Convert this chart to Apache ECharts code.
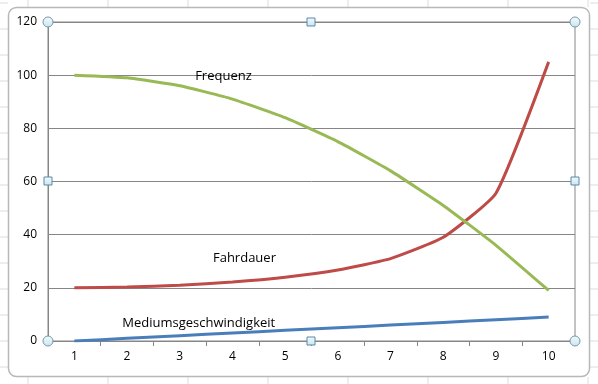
<!DOCTYPE html>
<html>
<head>
<meta charset="utf-8">
<script src="https://cdn.jsdelivr.net/npm/echarts@6/dist/echarts.min.js"></script>
<style>
html,body{margin:0;padding:0;background:#fff;}
#c{width:598px;height:384px;}
</style>
</head>
<body>
<div id="c"></div>
<script>
const categories = ['1','2','3','4','5','6','7','8','9','10'];
const frequenz = [100, 99, 96, 91, 84, 75, 64, 51, 36, 19];
const fahrdauer = [20, 20.3, 21, 22.2, 24, 26.7, 31, 39, 55.6, 105];
const medium = [0, 1, 2, 3, 4, 5, 6, 7, 8, 9];
const yTicks = [0, 20, 40, 60, 80, 100, 120];

const FONT = 'Open Sans';
const chart = echarts.init(document.getElementById('c'), null, {renderer: 'canvas'});

function withLabel(arr, idx, name, offset) {
  return arr.map((v, i) => i === idx ? {
    value: v,
    label: {show: true, formatter: name, position: 'inside', offset: offset,
            color: '#000', fontFamily: FONT, fontSize: 13}
  } : v);
}

function handleCircle(x, y) {
  return {type: 'circle', shape: {cx: x, cy: y, r: 5}, z: 100,
    style: {fill: new echarts.graphic.LinearGradient(0,0,0,1,[{offset:0,color:'#f4fbfd'},{offset:1,color:'#c6e6f0'}]), stroke: '#7b97a8', lineWidth: 1}};
}
function handleSquare(x, y) {
  return {type: 'rect', shape: {x: x - 4, y: y - 4, width: 8, height: 8}, z: 100,
    style: {fill: new echarts.graphic.LinearGradient(0,0,0,1,[{offset:0,color:'#f4fbfd'},{offset:1,color:'#c6e6f0'}]), stroke: '#5f87a8', lineWidth: 1}};
}

const bgLines = [];
[3, 29, 55, 81, 107, 133, 159, 185, 211, 237, 263, 289, 315, 341, 367].forEach(y => {
  bgLines.push({type:'line', shape:{x1:0,y1:y,x2:8,y2:y}, style:{stroke:'#dcdcdc', lineWidth:1}, z:-10});
  bgLines.push({type:'line', shape:{x1:590,y1:y,x2:598,y2:y}, style:{stroke:'#dcdcdc', lineWidth:1}, z:-10});
});
[28, 108, 188, 268, 348, 428, 508, 588].forEach(x => {
  bgLines.push({type:'line', shape:{x1:x,y1:0,x2:x,y2:7}, style:{stroke:'#dcdcdc', lineWidth:1}, z:-10});
  bgLines.push({type:'line', shape:{x1:x,y1:377,x2:x,y2:384}, style:{stroke:'#dcdcdc', lineWidth:1}, z:-10});
});

const option = {
  animation: false,
  backgroundColor: '#fff',
  grid: {left: 48, right: 23, top: 22, bottom: 43, show: true, borderColor: '#868686', borderWidth: 1, backgroundColor: 'transparent'},
  xAxis: {
    type: 'category', data: categories, boundaryGap: true,
    axisLine: {show: true, lineStyle: {color: '#868686', width: 1}},
    axisTick: {show: true, length: 5, lineStyle: {color: '#868686'}},
    axisLabel: {color: '#000', fontFamily: FONT, fontSize: 12, margin: 10},
    splitLine: {show: false}
  },
  yAxis: {
    type: 'value', min: 0, max: 120, interval: 20,
    axisLine: {show: true, lineStyle: {color: '#868686', width: 1}},
    axisTick: {show: false},
    axisLabel: {color: '#000', fontFamily: FONT, fontSize: 12, margin: 11},
    splitLine: {show: true, lineStyle: {color: '#868686', width: 1}}
  },
  series: [
    {name: 'Mediumsgeschwindigkeit', type: 'line', smooth: 0.15, data: withLabel(medium, 2, 'Mediumsgeschwindigkeit', [19, -12]),
     showSymbol: true, symbol: 'circle', symbolSize: 0, lineStyle: {color: '#4A7EBB', width: 3}, itemStyle: {color: '#4A7EBB'}},
    {name: 'Fahrdauer', type: 'line', smooth: 0.15, data: withLabel(fahrdauer, 3, 'Fahrdauer', [12, -24]),
     showSymbol: true, symbol: 'circle', symbolSize: 0, lineStyle: {color: '#BE4B48', width: 3}, itemStyle: {color: '#BE4B48'}},
    {name: 'Frequenz', type: 'line', smooth: 0.15, data: withLabel(frequenz, 3, 'Frequenz', [-9, -23]),
     showSymbol: true, symbol: 'circle', symbolSize: 0, lineStyle: {color: '#98B954', width: 3}, itemStyle: {color: '#98B954'}}
  ],
  graphic: [
    ...bgLines,
    {type: 'rect', shape: {x: 8.5, y: 7.5, width: 581, height: 369, r: 8}, z: -5,
     style: {fill: '#fff', stroke: '#b8b8b8', lineWidth: 1.5}},
    handleCircle(48, 22), handleCircle(575, 22), handleCircle(48, 341), handleCircle(575, 341),
    handleSquare(311, 22), handleSquare(48, 181), handleSquare(575, 181), handleSquare(311, 341)
  ]
};
chart.setOption(option);
</script>
</body>
</html>
